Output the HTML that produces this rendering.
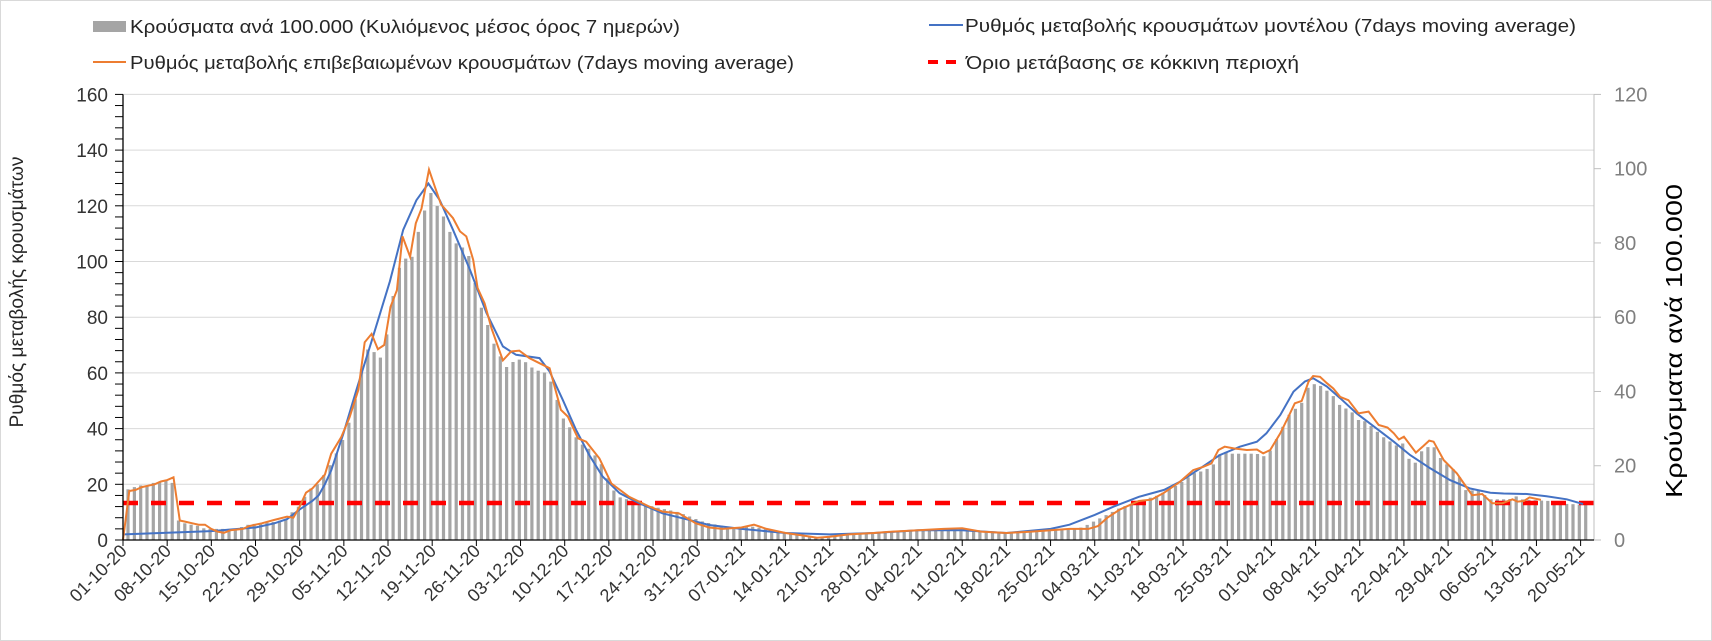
<!DOCTYPE html>
<html><head><meta charset="utf-8"><style>
html,body{margin:0;padding:0;background:#fff}
svg{display:block;font-family:"Liberation Sans",sans-serif}
</style></head><body>
<svg id="c" width="1712" height="641" viewBox="0 0 1712 641" xmlns="http://www.w3.org/2000/svg">
<rect x="0.5" y="0.5" width="1711" height="640" fill="#fff" stroke="#d9d9d9"/>
<g id="grid"></g>
<g id="bars" fill="#a5a5a5"></g>
<line x1="123" y1="503" x2="1594" y2="503" stroke="#ff0000" stroke-width="4.5" stroke-dasharray="15,13"/>
<polyline id="blue" fill="none" stroke="#4472c4" stroke-width="2"/>
<polyline id="orange" fill="none" stroke="#ed7d31" stroke-width="2"/>
<g id="axes"></g>
<!-- legend -->
<rect x="93" y="21" width="33" height="11" fill="#a5a5a5"/>
<text x="130" y="33" font-size="18" fill="#262626" textLength="550" lengthAdjust="spacingAndGlyphs">Κρούσματα ανά 100.000 (Κυλιόμενος μέσος όρος 7 ημερών)</text>
<line x1="93" y1="62" x2="126" y2="62" stroke="#ed7d31" stroke-width="2"/>
<text x="130" y="69" font-size="18" fill="#262626" textLength="664" lengthAdjust="spacingAndGlyphs">Ρυθμός μεταβολής επιβεβαιωμένων κρουσμάτων (7days moving average)</text>
<line x1="929" y1="25" x2="963" y2="25" stroke="#4472c4" stroke-width="2"/>
<text x="965" y="32" font-size="18" fill="#262626" textLength="611" lengthAdjust="spacingAndGlyphs">Ρυθμός μεταβολής κρουσμάτων μοντέλου (7days moving average)</text>
<line x1="928" y1="62" x2="964" y2="62" stroke="#ff0000" stroke-width="4" stroke-dasharray="10,8"/>
<text x="966" y="69" font-size="18" fill="#262626" textLength="333" lengthAdjust="spacingAndGlyphs">Όριο μετάβασης σε κόκκινη περιοχή</text>
<text transform="translate(23,292) rotate(-90)" text-anchor="middle" font-size="19" fill="#262626" textLength="271" lengthAdjust="spacingAndGlyphs">Ρυθμός μεταβολής κρουσμάτων</text>
<text transform="translate(1682,341) rotate(-90)" text-anchor="middle" font-size="23" fill="#000" textLength="314" lengthAdjust="spacingAndGlyphs">Κρούσματα ανά 100.000</text>
</svg>
<script>
var NS="http://www.w3.org/2000/svg";
var X0=123,PPD=6.31,Y0=540,PPU=2.785;
function el(t,a,p,txt){var e=document.createElementNS(NS,t);for(var k in a)e.setAttribute(k,a[k]);if(txt!==undefined)e.textContent=txt;p.appendChild(e);return e;}
function interp(pts,d){if(d<=pts[0][0])return pts[0][1];for(var i=1;i<pts.length;i++){if(d<=pts[i][0]){var a=pts[i-1],b=pts[i];return a[1]+(b[1]-a[1])*(d-a[0])/(b[0]-a[0]);}}return pts[pts.length-1][1];}
var grid=document.getElementById('grid'),axes=document.getElementById('axes');
for(var v=20;v<=160;v+=20){var y=Y0-v*PPU;el('line',{x1:123,x2:1594,y1:y,y2:y,stroke:'#d9d9d9','stroke-width':1},grid);}
el('line',{x1:123,x2:123,y1:Y0-160*PPU,y2:Y0,stroke:'#000','stroke-width':1.3},axes);
for(var v=0;v<=160;v+=4){var y=Y0-v*PPU;el('line',{x1:115,x2:123,y1:y,y2:y,stroke:'#000','stroke-width':1},axes);}
for(var v=0;v<=160;v+=20){var y=Y0-v*PPU;el('text',{x:108,y:y+7,'text-anchor':'end','font-size':19,fill:'#333'},axes,String(v));}
el('line',{x1:1594,x2:1594,y1:Y0-160*PPU,y2:Y0,stroke:'#bfbfbf','stroke-width':1},axes);
for(var r=0;r<=120;r+=20){var y=Y0-r*445.6/120;el('line',{x1:1594,x2:1601,y1:y,y2:y,stroke:'#bfbfbf','stroke-width':1},axes);el('text',{x:1614,y:y+7,'font-size':20,fill:'#7f7f7f'},axes,String(r));}
el('line',{x1:123,x2:1594,y1:Y0,y2:Y0,stroke:'#000','stroke-width':1.3},axes);
var start=new Date(2020,9,1);
for(var k=0;k<=33;k++){var x=X0+k*7*PPD;el('line',{x1:x,x2:x,y1:Y0,y2:Y0+6,stroke:'#000','stroke-width':1},axes);
var dt=new Date(start.getTime()+k*7*86400000+3600000*3);var s=('0'+dt.getDate()).slice(-2)+'-'+('0'+(dt.getMonth()+1)).slice(-2)+'-'+String(dt.getFullYear()).slice(2);
el('text',{transform:'translate('+(x+5)+',552) rotate(-45)','text-anchor':'end','font-size':18,fill:'#333'},axes,s);}
var O=[[0,0],[1,17.6],[2,18],[3,19],[4,19.5],[5,20],[6,21],[7,21.5],[8,22.5],[9,7],[10,6.5],[11,6],[12,5.5],[13,5.5],[14,4],[15,3],[16,2.6],[17,3.5],[19,4],[20,5],[22,6],[24,7.2],[26,8.4],[27,8],[28,12],[29,17],[30,18.5],[31,21],[32,23.5],[33,31],[34.6,37],[35.9,44],[37.3,54],[38.3,71],[39.4,74],[40.4,68.5],[41.4,70],[42.4,83.7],[43.4,89.7],[44.3,109],[45.5,101.7],[46.4,113.7],[47.3,119],[48.5,133],[49.4,127],[50.4,120.5],[52.3,115.6],[53.4,110.8],[54.4,109],[55.5,100.6],[56.2,90.5],[57.3,85],[58.4,76],[60.2,64.5],[61.5,67.7],[62.8,68],[64.4,65.3],[66,63.5],[67.6,61.7],[69.4,46.7],[70.5,44.3],[72.1,36.5],[73.4,35.3],[75.5,29.3],[77.4,20.3],[80.2,15.5],[83.4,12],[85.5,10.2],[88.1,9.6],[90.8,6],[92.9,4.5],[95,4],[98,4.5],[100,5.5],[102,4],[105,2.5],[108,1.5],[110,0.8],[112,1.2],[115,2],[119,2.5],[122,3],[126,3.5],[130,4],[133,4.2],[136,3],[140,2.5],[144,3],[147,3.5],[150,4],[153,4],[154.5,5],[156,8],[158,11],[160,13],[161,14],[163,14.5],[165,17],[167.5,20.9],[169.6,25.1],[171.2,26.3],[172.5,27.5],[173.6,32.3],[174.6,33.5],[176,32.9],[178.1,32.3],[179.7,32.5],[180.7,31.1],[181.8,32.3],[183.4,38.3],[184.7,44.3],[185.7,49.1],[186.8,49.9],[187.9,56.9],[188.6,58.9],[189.7,58.6],[190.8,56.3],[191.8,54.4],[192.9,51.4],[194.2,50.2],[195.8,45.5],[197.4,46.1],[199,41.3],[200.4,40.4],[201.4,38.3],[202.2,36.1],[203,37.1],[204.9,31.4],[206.1,33.8],[207,35.7],[207.7,35.3],[209.3,28.7],[211.4,23.9],[212.5,20.3],[213.8,16.1],[215.4,16.5],[217,13.2],[218.6,13.2],[220.2,14.6],[221,13.8],[222,14],[222.9,15.3],[224.7,14.4]];
var B=[[0,2],[7,2.6],[14,3.2],[21,4.5],[24,6],[26,7.5],[28,11],[30,14],[31,16],[32,20],[33,25],[34.9,38],[37,54],[39.4,71.4],[42.3,92.9],[44.4,111.4],[46.5,122],[48.4,128],[50.2,122],[52.3,111.4],[55,97],[57.6,81.5],[60.2,69.5],[62.3,66.5],[66,65.3],[67.6,60.5],[69.7,50.3],[71.8,39.5],[73.9,30.5],[76,22.8],[78.7,16.8],[81.8,13.2],[85.5,9.6],[88.7,7.8],[92.9,5.4],[98,4],[105,2.5],[112,2],[119,2.5],[126,3.5],[133,3.5],[140,2.5],[147,4],[150,5.5],[154,9],[157,12],[161,15.5],[165,18],[167.5,20.9],[170.7,25.7],[173.8,30.5],[177,33.5],[179.7,35.3],[181.2,38.3],[183.4,44.9],[185.5,53.3],[187.3,56.9],[188.6,58.1],[190.8,55.1],[192.9,50.9],[195.5,45.5],[198.1,41],[201.4,35.3],[204,30.5],[207.2,25.7],[210.3,21.5],[213.5,18.5],[216.7,17],[218.8,16.7],[222.5,16.5],[225.6,15.7],[228.8,14.6],[231.4,12.9]];
var R=[[0.8,18.2],[1.8,19],[2.8,19.6],[3.8,19.6],[4.8,20.5],[5.8,21],[6.8,21.3],[7.8,20.5],[8.8,7],[9.8,6],[10.8,5.5],[12,5],[13,4],[18,4],[20,5.6],[24,6.5],[26,7.6],[27.3,11.4],[28.3,12.5],[29.3,18.5],[30.3,18.5],[31.3,21.5],[32.3,25],[33.3,28.7],[34.3,33.5],[35.3,38.3],[36.4,46.7],[37.4,56.3],[38.3,67.6],[39.4,69.4],[40.4,64.6],[41.4,66.8],[42.4,84.4],[43.4,92.4],[44.3,104.4],[45.4,97],[46.4,108.7],[47.5,114],[48.4,126.9],[49.4,121.1],[50.5,117.9],[51.4,112.7],[52.5,107],[53.5,105.3],[54.5,104.4],[55.5,96.3],[56.3,85.6],[57.4,80.8],[58.4,71.8],[59.5,68.2],[60.4,61.4],[61.5,63.4],[62.4,64.9],[63.4,64.6],[64.5,62.5],[65.4,60.8],[66.4,60.8],[67.4,59.2],[68.5,52.8],[69.5,44.5],[70.4,41.9],[71.4,38.3],[72.4,34.7],[73.5,33.5],[74.5,31.1],[75.5,28.7],[76.5,23.7],[77.4,19.1],[78.5,15.5],[80,14.5],[84,12],[88,10],[92,6.5],[96,4.5],[100,4.8],[105,2.5],[110,1],[115,1.8],[120,2.5],[126,3.5],[133,4],[140,2.5],[147,3.5],[152,4.5],[155,8],[158,11.5],[161,14],[164,16],[167.5,20.3],[168.5,22],[169.6,23.9],[170.7,24.5],[172.6,26.3],[173.6,30.5],[174.7,31.7],[175.7,31],[179.7,31],[180.7,29.9],[181.7,31.7],[182.6,35.3],[183.6,39.7],[184.6,44.5],[185.7,47],[186.6,48.1],[187.7,54.5],[188.6,56],[189.6,55.7],[190.6,53.9],[191.6,52.4],[192.6,48.8],[193.7,47.3],[194.6,46.5],[195.6,43.1],[196.6,43],[197.6,41.3],[198.6,39.3],[199.6,37.1],[200.6,35.9],[201.6,33.5],[202.6,35.9],[203.6,29.7],[204.6,26.9],[205.7,31.7],[206.7,33.3],[207.7,33.7],[208.7,29.7],[209.6,27.5],[210.7,25.7],[211.7,23],[212.8,17.9],[213.7,17.8],[214.7,17.9],[215.6,16.5],[216.7,14.6],[219.7,14.6],[220.7,15.8],[221.6,14.6],[226,14],[227,13.2],[232.6,12.5]];
function pts(a){return a.map(function(p){return (X0+p[0]*PPD).toFixed(1)+','+(Y0-p[1]*PPU).toFixed(1);}).join(' ');}
document.getElementById('orange').setAttribute('points',pts(O));
document.getElementById('blue').setAttribute('points',pts(B));
var bars=document.getElementById('bars');
for(var i=0;i<232;i++){var c=i+0.8;var v=interp(R,c);var h=v*PPU;el('rect',{x:(X0+c*PPD-1.6).toFixed(1),y:(Y0-h).toFixed(1),width:3.2,height:h.toFixed(1)},bars);}
</script>
</body></html>
